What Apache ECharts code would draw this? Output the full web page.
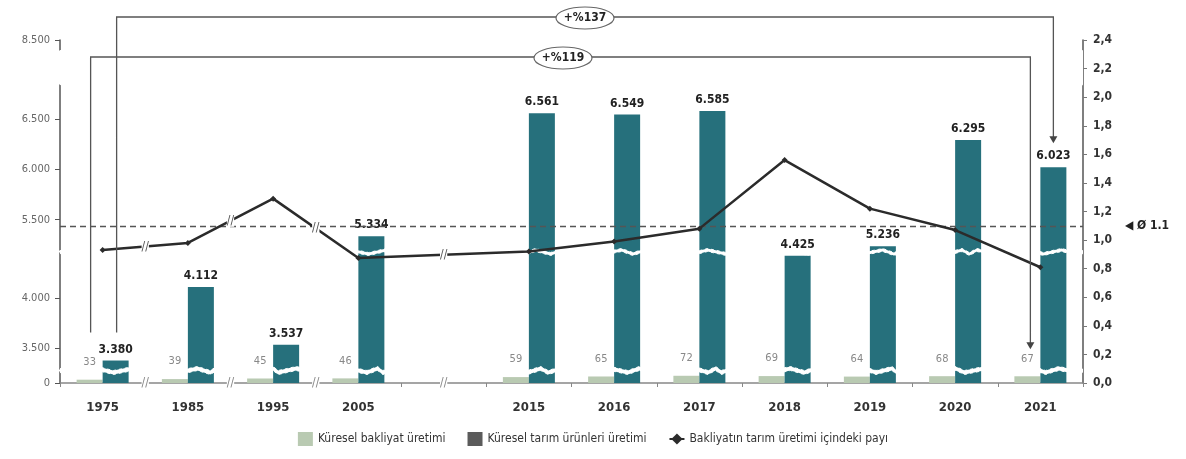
<!DOCTYPE html>
<html><head><meta charset="utf-8">
<script src="https://cdn.jsdelivr.net/npm/echarts@6/dist/echarts.min.js"></script>
<style>html,body{margin:0;padding:0;background:#fff}#c{width:1186px;height:459px}</style>
</head><body><div id="c"></div>
<script>
const categories = ['1975','1985','1995','2005','','2015','2016','2017','2018','2019','2020','2021'];
const pulses = [33,39,45,46,null,59,65,72,69,64,68,67];
const agri = [3380,4112,3537,5334,null,6561,6549,6585,4425,5236,6295,6023];
const share = [0.93,0.98,1.29,0.875,null,0.92,0.99,1.08,1.56,1.22,1.07,0.81];
const leftTicks = [0,3500,4000,5500,6000,6500,8500];
const avgShare = 1.1;
const names = ['Küresel bakliyat üretimi','Küresel tarım ürünleri üretimi','Bakliyatın tarım üretimi içindeki payı'];
const FF = "'Liberation Sans Narrow','DejaVu Sans Condensed','Open Sans',sans-serif";
const thou = v => String(v).replace(/\B(?=(\d{3})+(?!\d))/g, '.');
const dec = v => Number(v).toFixed(1).replace('.', ',');

const chart = echarts.init(document.getElementById('c'));
const option = {
  animation: false,
  textStyle: {fontFamily: FF},
  grid: {left: 60, right: 103, top: 40, bottom: 76},
  legend: {
    bottom: 8, left: 'center', itemGap: 22, itemWidth: 15, itemHeight: 14,
    textStyle: {fontFamily: FF, fontSize: 12, color: '#333'},
    data: [
      {name: names[0], icon: 'rect', itemStyle: {color: '#b9cab2'}},
      {name: names[1], icon: 'rect', itemStyle: {color: '#5b5b5b'}},
      {name: names[2]}
    ]
  },
  xAxis: {
    type: 'category', data: categories,
    axisLine: {lineStyle: {color: '#888', width: 1.5}},
    axisTick: {show: true, length: 4, lineStyle: {color: '#888'}},
    axisLabel: {color: '#333', fontSize: 13, fontWeight: 'bold', margin: 18, fontFamily: FF}
  },
  yAxis: [{
    type: 'value', min: 0, max: 8500,
    breaks: [
      {start: 110, end: 3300, gap: '1%'},
      {start: 4450, end: 5200, gap: '1%'},
      {start: 6850, end: 8400, gap: '10%'}
    ],
    breakArea: {
      show: true,
      itemStyle: {color: '#ffffff', borderColor: '#ffffff', borderWidth: 1, opacity: 1},
      zigzagAmplitude: 2, zigzagZ: 100, expandOnClick: false
    },
    splitLine: {show: false},
    axisLine: {show: true, lineStyle: {color: '#555', width: 1.5}},
    axisTick: {show: true, length: 5, customValues: leftTicks, lineStyle: {color: '#555'}},
    axisLabel: {customValues: leftTicks, formatter: v => thou(v), color: '#666', fontSize: 11, fontFamily: FF, margin: 10}
  }, {
    type: 'value', min: 0, max: 2.4, interval: 0.2, position: 'right',
    splitLine: {show: false},
    axisLine: {show: true, lineStyle: {color: '#555', width: 1.5}},
    axisTick: {show: true, length: 4, lineStyle: {color: '#777'}},
    axisLabel: {formatter: v => dec(v), color: '#333', fontSize: 12, fontWeight: 'bold', fontFamily: FF, margin: 10}
  }],
  series: [{
    name: names[0], type: 'bar', data: pulses, barWidth: 26, barGap: '0%',
    itemStyle: {color: '#b9cab2'},
    label: {show: true, position: 'top', distance: 12, color: '#888', fontSize: 11, fontFamily: FF}
  }, {
    name: names[1], type: 'bar', data: agri, barWidth: 26,
    itemStyle: {color: '#26707c'},
    label: {show: true, position: 'top', distance: 5, color: '#222', fontSize: 12, fontWeight: 'bold', fontFamily: FF, formatter: p => thou(p.value)}
  }, {
    name: names[2], type: 'line', yAxisIndex: 1, data: share, connectNulls: true, z: 150,
    symbol: 'diamond', symbolSize: 6, showSymbol: true,
    lineStyle: {color: '#2b2b2b', width: 2.5}, itemStyle: {color: '#2b2b2b'},
    markLine: {
      silent: true, symbol: ['none', 'none'],
      lineStyle: {color: '#555', type: [6, 4], width: 1.3},
      label: {show: true, position: 'end', distance: 42, formatter: '◀ Ø 1.1', color: '#222', fontSize: 12, fontWeight: 'bold', fontFamily: FF},
      data: [{yAxis: avgShare}]
    }
  }]
};
chart.setOption(option);

// annotations placed via the chart's own scales
const P = (i, v, ax) => chart.convertToPixel({xAxisIndex: 0, yAxisIndex: ax || 0}, [i, v]);
const g = [];
const last = categories.length - 1;
const c0 = P(0, 0)[0], cN = P(last, 0)[0];
const yBase = P(0, 0)[1];
const bottomY = P(0, agri[0])[1] - 28;
function bracket(xl, xr, top, yEnd, label, lx) {
  g.push({type: 'polyline', z: 200, shape: {points: [[xl, bottomY], [xl, top], [xr, top], [xr, yEnd - 6]]}, style: {stroke: '#555', lineWidth: 1.3, fill: null}});
  g.push({type: 'polygon', z: 200, shape: {points: [[xr - 4, yEnd - 7], [xr + 4, yEnd - 7], [xr, yEnd]]}, style: {fill: '#444'}});
  g.push({type: 'ellipse', z: 201, shape: {cx: lx, cy: top + 1, rx: 29, ry: 11}, style: {fill: '#fff', stroke: '#666', lineWidth: 1.2}});
  g.push({type: 'text', z: 202, x: lx, y: top + 1, style: {text: label, fill: '#222', font: 'bold 12px ' + FF, align: 'center', verticalAlign: 'middle'}});
}
bracket(c0 + 14, cN + 13, 17, P(last, agri[last])[1] - 24, '+%137', 585);
bracket(c0 - 12, cN - 10, 57, P(last, pulses[last])[1] - 27, '+%119', 563);
for (let i = 0; i < 4; i++) {
  const a = i < 3 ? (P(i, 0)[0] + P(i + 1, 0)[0]) / 2 : P(4, 0)[0];
  g.push({type: 'text', z: 150, x: a, y: yBase, style: {text: '//', fill: '#888', font: '12px ' + FF, align: 'center', verticalAlign: 'middle', backgroundColor: '#fff'}});
  const j = i < 3 ? i + 1 : 5;
  const p1 = P(i, share[i], 1), p2 = P(j, share[j], 1);
  const t = i < 3 ? 0.5 : (a - p1[0]) / (p2[0] - p1[0]);
  g.push({type: 'text', z: 160, x: a, y: p1[1] + (p2[1] - p1[1]) * t, style: {text: '//', fill: '#555', font: '12px ' + FF, align: 'center', verticalAlign: 'middle', backgroundColor: '#fff'}});
}
chart.setOption({graphic: g});
</script></body></html>
